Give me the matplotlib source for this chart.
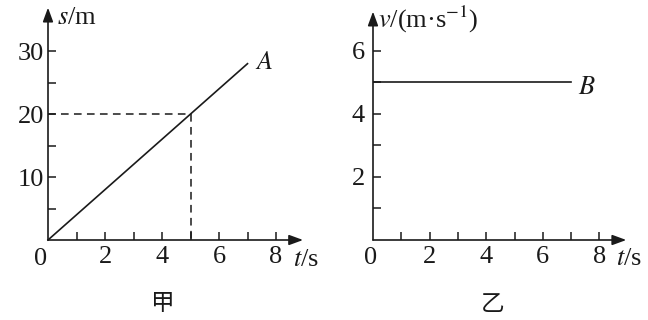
import matplotlib.pyplot as plt

plt.rcParams['font.family'] = ['Liberation Serif', 'DejaVu Serif']
plt.rcParams['mathtext.fontset'] = 'stix'

# panel 甲: s-t graph
t_a = [0, 7]
s_a = [0, 28]
s_mark_t = 5
s_mark_s = 20
s_xticks = [1, 2, 3, 4, 5, 6, 7, 8]
s_xlabels = ['', '2', '', '4', '', '6', '', '8']
s_yticks = [5, 10, 15, 20, 25, 30]
s_ylabels = ['', '10', '', '20', '', '30']

# panel 乙: v-t graph
t_b = [0, 7]
v_b = [5, 5]
v_yticks = [1, 2, 3, 4, 5, 6]
v_ylabels = ['', '2', '', '4', '', '6']

INK = '#1a1a1a'
FS = 19


def draw_axes(ax, xmax, ymax):
    for sp in ax.spines.values():
        sp.set_visible(False)
    arrow = dict(arrowstyle='-|>,head_length=0.6,head_width=0.22', lw=1.2,
                 color=INK, mutation_scale=14, shrinkA=0, shrinkB=0)
    ax.annotate('', xy=(xmax, 0), xytext=(0, 0), arrowprops=arrow, annotation_clip=False)
    ax.annotate('', xy=(0, ymax), xytext=(0, 0), arrowprops=arrow, annotation_clip=False)
    ax.tick_params(direction='in', length=6, width=1.1, color=INK, labelsize=FS,
                   labelcolor=INK)
    ax.tick_params(axis='x', pad=4)


fig = plt.figure(figsize=(6.48, 3.2), dpi=100)

# left panel
ax1 = fig.add_axes([48 / 648, 80 / 320, 256.5 / 648, 233 / 320])
ax1.set_xlim(0, 9)
ax1.set_ylim(0, 37)
draw_axes(ax1, 8.95, 36.9)
ax1.set_xticks(s_xticks, s_xlabels)
ax1.set_yticks(s_yticks, s_ylabels)
ax1.tick_params(axis='y', pad=3)
ax1.plot(t_a, s_a, color=INK, lw=1.2, clip_on=False)
ax1.plot([0, s_mark_t], [s_mark_s, s_mark_s], color=INK, lw=1.1, ls=(0, (5, 3.5)))
ax1.plot([s_mark_t, s_mark_t], [s_mark_s, 0], color=INK, lw=1.1, ls=(0, (5, 3.5)))
ax1.text(7.26, 28.1, '$A$', fontsize=FS, color=INK, va='center', ha='left')
ax1.text(0.3, 35.2, '$s$/m', fontsize=FS, color=INK, va='center', ha='left')
ax1.text(8.6, -3.2, '$t$/s', fontsize=FS, color=INK, va='center', ha='left')
ax1.text(-0.25, -3.0, '0', fontsize=FS, color=INK, va='center', ha='center')

# right panel
ax2 = fig.add_axes([373 / 648, 80 / 320, 254.7 / 648, 230 / 320])
ax2.set_xlim(0, 9)
ax2.set_ylim(0, 7.3)
draw_axes(ax2, 8.95, 7.25)
ax2.set_xticks(s_xticks, s_xlabels)
ax2.set_yticks(v_yticks, v_ylabels)
ax2.tick_params(axis='y', pad=6)
ax2.plot(t_b, v_b, color=INK, lw=1.2)
ax2.text(7.24, 4.83, '$B$', fontsize=FS, color=INK, va='center', ha='left')
ax2.text(0.18, 7.0, '$v$/(m·s$^{\\rm{-1}}$)', fontsize=FS, color=INK, va='center', ha='left')
ax2.text(8.57, -0.6, '$t$/s', fontsize=FS, color=INK, va='center', ha='left')
ax2.text(-0.1, -0.57, '0', fontsize=FS, color=INK, va='center', ha='center')

fig.text(163 / 648, 1 - 304 / 320, '甲', fontsize=17, color=INK, ha='center', va='center',
         family=['Noto Sans CJK SC', 'DejaVu Sans'])
fig.text(493 / 648, 1 - 304 / 320, '乙', fontsize=17, color=INK, ha='center', va='center',
         family=['Noto Sans CJK SC', 'DejaVu Sans'])

fig.savefig('out.png', dpi=100, facecolor='white')
